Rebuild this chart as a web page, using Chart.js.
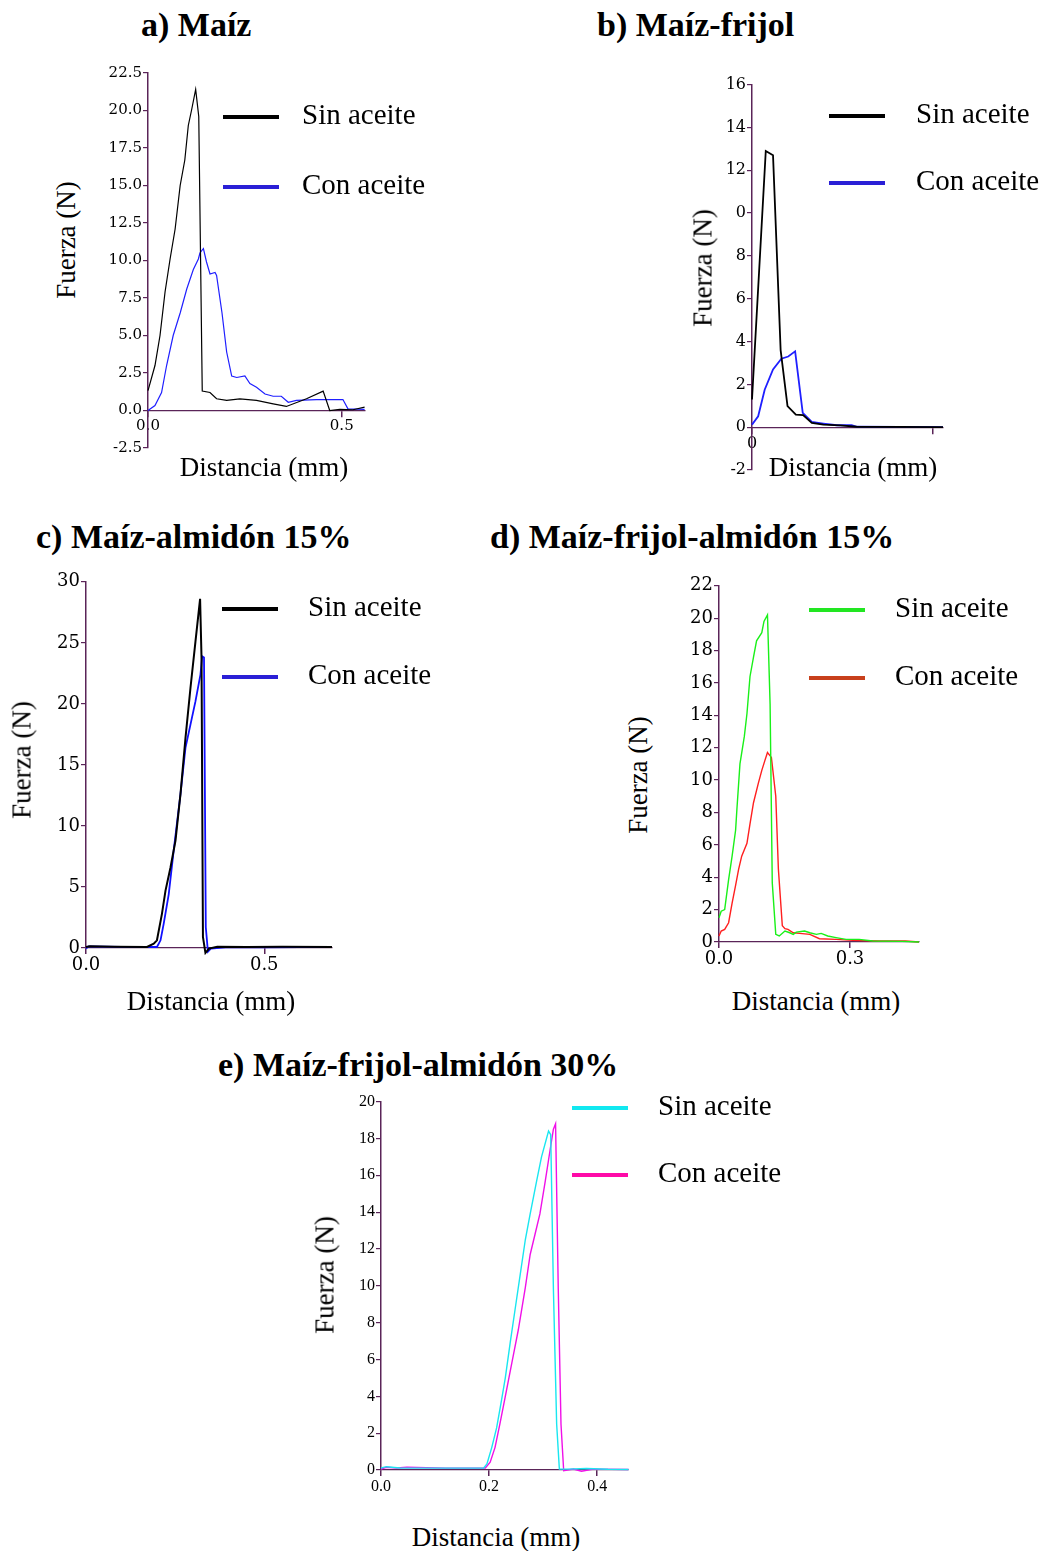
<!DOCTYPE html>
<html>
<head>
<meta charset="utf-8">
<script src="https://cdn.jsdelivr.net/npm/chart.js@4/dist/chart.umd.min.js"></script>
<style>
    body { margin: 0; background: #fff; width: 1045px; height: 1551px; position: relative; overflow: hidden;
           font-family: "Liberation Serif", "Times New Roman", serif; }
    .t { position: absolute; white-space: nowrap; color: #000; line-height: 1; }
    .ttl { font-weight: bold; font-size: 34px; }
    .leg { font-size: 29px; }
    .ax { font-size: 27px; }
    .sw { position: absolute; height: 4px; }
    canvas { position: absolute; }
</style>
</head>
<body>
<script>
// a) Maíz
const maizSinX = [0, 0.018, 0.031, 0.044, 0.057, 0.070, 0.083, 0.095, 0.104, 0.113, 0.123, 0.131, 0.140, 0.160, 0.177, 0.203, 0.237, 0.280, 0.323, 0.357, 0.409, 0.452, 0.469, 0.495, 0.529, 0.559];
const maizSinY = [1.33, 3.0, 5.0, 7.9, 10.1, 12.1, 15.0, 16.7, 19.0, 20.1, 21.4, 19.6, 1.3, 1.2, 0.78, 0.67, 0.78, 0.67, 0.44, 0.27, 0.78, 1.29, 0, 0.07, 0.05, 0.22];
const maizConX = [0, 0.018, 0.035, 0.048, 0.065, 0.083, 0.100, 0.117, 0.130, 0.134, 0.143, 0.151, 0.160, 0.173, 0.177, 0.191, 0.203, 0.216, 0.229, 0.250, 0.263, 0.280, 0.302, 0.323, 0.344, 0.362, 0.383, 0.435, 0.503, 0.516, 0.559];
const maizConY = [0, 0.33, 1.2, 3.0, 5.0, 6.5, 8.1, 9.4, 10.1, 10.5, 10.8, 9.9, 9.1, 9.2, 9.0, 6.5, 3.9, 2.3, 2.2, 2.3, 1.8, 1.55, 1.1, 0.95, 0.95, 0.55, 0.67, 0.73, 0.73, 0.11, 0.07];

// b) Maíz-frijol
const frijolSinX = [0, 0.038, 0.058, 0.079, 0.098, 0.121, 0.141, 0.165, 0.197, 0.243, 0.289, 0.527];
const frijolSinY = [1.29, 12.9, 12.7, 3.6, 0.98, 0.59, 0.56, 0.2, 0.12, 0.08, 0.02, 0];
const frijolConX = [0, 0.017, 0.035, 0.058, 0.081, 0.100, 0.119, 0.140, 0.165, 0.197, 0.234, 0.275, 0.289, 0.527];
const frijolConY = [0.12, 0.51, 1.75, 2.7, 3.2, 3.3, 3.54, 0.67, 0.25, 0.17, 0.09, 0.09, 0.02, 0];

// c) Maíz-almidón 15%
const almidonSinX = [0, 0.011, 0.08, 0.171, 0.190, 0.199, 0.213, 0.223, 0.237, 0.251, 0.265, 0.279, 0.293, 0.307, 0.320, 0.324, 0.328, 0.335, 0.345, 0.368, 0.45, 0.55, 0.69];
const almidonSinY = [0.08, 0.14, 0.1, 0.08, 0.35, 0.63, 2.8, 4.7, 6.6, 8.8, 12.6, 17.2, 21.3, 25.1, 28.6, 23.8, 0.9, -0.4, -0.05, 0.1, 0.08, 0.1, 0.08];
const almidonConX = [0, 0.007, 0.1, 0.199, 0.209, 0.218, 0.232, 0.246, 0.265, 0.279, 0.293, 0.307, 0.321, 0.326, 0.331, 0.336, 0.342, 0.350, 0.40, 0.50, 0.60, 0.69];
const almidonConY = [-0.05, 0.14, 0.1, 0.08, 0.63, 2.0, 4.4, 8.0, 12.6, 16.4, 18.3, 20.2, 22.4, 23.9, 23.8, 1.7, -0.3, -0.05, 0.08, 0.06, 0.08, 0.08];

// d) Maíz-frijol-almidón 15%
const fa15SinX = [0, 0.005, 0.013, 0.022, 0.030, 0.038, 0.041, 0.048, 0.058, 0.064, 0.071, 0.079, 0.086, 0.098, 0.103, 0.111, 0.117, 0.122, 0.130, 0.138, 0.151, 0.162, 0.170, 0.177, 0.196, 0.208, 0.223, 0.234, 0.249, 0.268, 0.291, 0.321, 0.352, 0.420, 0.458];
const fa15SinY = [1.5, 1.9, 2.0, 3.85, 5.3, 6.9, 8.2, 11.0, 12.7, 14.1, 16.4, 17.6, 18.6, 19.1, 19.8, 20.2, 14.7, 3.65, 0.47, 0.37, 0.68, 0.57, 0.47, 0.61, 0.68, 0.57, 0.47, 0.53, 0.37, 0.27, 0.16, 0.16, 0.06, 0.04, 0];
const fa15ConX = [0, 0.005, 0.013, 0.022, 0.030, 0.038, 0.045, 0.052, 0.064, 0.071, 0.079, 0.090, 0.098, 0.105, 0.111, 0.120, 0.130, 0.136, 0.145, 0.151, 0.158, 0.170, 0.185, 0.208, 0.230, 0.268, 0.306, 0.367, 0.427, 0.458];
const fa15ConY = [0.37, 0.68, 0.78, 1.19, 2.4, 3.5, 4.5, 5.3, 6.1, 7.3, 8.6, 9.8, 10.6, 11.2, 11.7, 11.4, 9.0, 4.5, 1.0, 0.82, 0.78, 0.57, 0.53, 0.47, 0.2, 0.16, 0.1, 0.06, 0.06, 0];

// e) Maíz-frijol-almidón 30%
const fa30SinX = [0, 0.010, 0.035, 0.10, 0.190, 0.196, 0.205, 0.214, 0.223, 0.230, 0.239, 0.248, 0.257, 0.267, 0.276, 0.288, 0.297, 0.310, 0.314, 0.319, 0.325, 0.330, 0.344, 0.38, 0.42, 0.458];
const fa30SinY = [0.11, 0.18, 0.11, 0.1, 0.11, 0.33, 1.23, 2.3, 3.8, 5.0, 6.9, 8.7, 10.5, 12.5, 13.9, 15.7, 17.0, 18.4, 18.2, 9.8, 2.5, 0.05, 0.05, 0.08, 0.04, 0.03];
const fa30ConX = [0, 0.010, 0.029, 0.048, 0.12, 0.193, 0.202, 0.211, 0.220, 0.230, 0.242, 0.254, 0.267, 0.276, 0.285, 0.294, 0.304, 0.313, 0.319, 0.323, 0.328, 0.333, 0.338, 0.356, 0.371, 0.393, 0.458];
const fa30ConY = [0.05, 0.15, 0.11, 0.15, 0.1, 0.11, 0.42, 1.23, 2.5, 4.0, 5.8, 7.6, 9.9, 11.7, 12.8, 13.9, 15.7, 17.4, 18.5, 18.8, 9.8, 2.5, -0.04, 0.05, -0.07, 0.05, 0.03];

const serieNames = ['Sin aceite', 'Con aceite'];
const axisColor = '#5a2458';

function addText(txt, cls, x, y, rotate) {
    const d = document.createElement('div');
    d.className = 't ' + cls;
    d.textContent = txt;
    d.style.left = x + 'px';
    d.style.top = y + 'px';
    d.style.transform = rotate ? 'translate(-50%,-50%) rotate(-90deg)' : 'translateY(-50%)';
    document.body.appendChild(d);
    return d;
}

function addCenter(txt, cls, x, y) {
    const d = addText(txt, cls, x, y, false);
    d.style.transform = 'translate(-50%,-50%)';
}

function addLegend(p) {
    p.series.forEach((s, i) => {
        const sw = document.createElement('div');
        sw.className = 'sw';
        sw.style.left = p.leg.x + 'px';
        sw.style.top = (p.leg.y[i] - 2) + 'px';
        sw.style.width = '56px';
        sw.style.background = s.legColor;
        document.body.appendChild(sw);
        addText(s.label, 'leg', p.leg.tx, p.leg.y[i] - 3);
    });
}

function makePanel(p) {
    const cv = document.createElement('canvas');
    const w = p.R - p.L + 70, h = p.B - p.T + 50;
    cv.width = w; cv.height = h;
    cv.style.left = (p.L - 60) + 'px';
    cv.style.top = (p.T - 10) + 'px';
    cv.style.width = w + 'px';
    cv.style.height = h + 'px';
    document.body.appendChild(cv);

    const tickFont = { family: p.tickFont, size: p.tickSize };
    new Chart(cv.getContext('2d'), {
        type: 'line',
        data: {
            datasets: p.series.map(s => ({
                label: s.label,
                data: s.x.map((v, i) => ({ x: v, y: s.y[i] })),
                borderColor: s.color,
                borderWidth: s.width,
                pointRadius: 0,
                tension: 0,
                fill: false,
                clip: false
            }))
        },
        options: {
            responsive: false,
            animation: false,
            devicePixelRatio: 1,
            layout: { padding: { left: 0, top: 10, right: 10, bottom: p.xAtZero ? 40 : 0 } },
            plugins: { legend: { display: false }, tooltip: { enabled: false } },
            scales: {
                x: {
                    type: 'linear',
                    min: 0,
                    max: p.xMax,
                    position: p.xAtZero ? { y: 0 } : 'bottom',
                    afterFit: s => { if (!p.xAtZero) s.height = 40; },
                    ticks: { stepSize: p.xStep, includeBounds: false, autoSkip: false, maxRotation: 0,
                             padding: 1, color: '#000', font: tickFont, callback: p.xFmt },
                    grid: { drawOnChartArea: false, drawTicks: true, tickLength: 6, color: axisColor, lineWidth: 1.5 },
                    border: { color: axisColor, width: 1.2 }
                },
                y: {
                    type: 'linear',
                    min: p.yMin,
                    max: p.yMax,
                    afterFit: s => { s.width = 60; },
                    ticks: { stepSize: p.yStep, includeBounds: false, autoSkip: false,
                             padding: 1, color: '#000', font: tickFont, callback: p.yFmt },
                    grid: { drawOnChartArea: false, drawTicks: true, tickLength: 5, color: axisColor, lineWidth: 1.2 },
                    border: { color: axisColor, width: 1.5 }
                }
            }
        }
    });

    addText(p.title, 'ttl', p.titlePos[0], p.titlePos[1]);
    addText('Fuerza (N)', 'ax', p.yTitle[0], p.yTitle[1], true);
    addCenter('Distancia (mm)', 'ax', p.xTitle[0], p.xTitle[1]);
    addLegend(p);
}

const fmt1 = v => Number(v).toFixed(1);
const fmt0 = v => String(Math.round(v));
const wideSerif = "'DejaVu Serif', 'Liberation Serif', serif";
const plainSerif = "'Liberation Serif', 'Times New Roman', serif";

const panels = [
    {
        title: 'a) Maíz', titlePos: [141, 25], yTitle: [66, 240], xTitle: [264, 467],
        L: 148, T: 73, R: 365, B: 448, xMax: 0.56, xStep: 0.5, yMin: -2.5, yMax: 22.5, yStep: 2.5,
        xAtZero: true, xFmt: fmt1, yFmt: fmt1, tickFont: wideSerif, tickSize: 15,
        leg: { x: 223, tx: 302, y: [117, 187] },
        series: [
            { label: serieNames[0], x: maizSinX, y: maizSinY, color: '#000000', legColor: '#000000', width: 1.2 },
            { label: serieNames[1], x: maizConX, y: maizConY, color: '#1f1fff', legColor: '#2a1fd6', width: 1.2 }
        ]
    },
    {
        title: 'b) Maíz-frijol', titlePos: [597, 25], yTitle: [703, 268], xTitle: [853, 467],
        L: 752, T: 84, R: 943, B: 470, xMax: 0.527, xStep: 0.5, yMin: -2, yMax: 16, yStep: 2,
        xAtZero: true, xFmt: v => (v === 0 ? '0' : ''), yFmt: v => (v === 10 ? '0' : String(v)),
        tickFont: wideSerif, tickSize: 16,
        leg: { x: 829, tx: 916, y: [116, 183] },
        series: [
            { label: serieNames[0], x: frijolSinX, y: frijolSinY, color: '#000000', legColor: '#000000', width: 1.8 },
            { label: serieNames[1], x: frijolConX, y: frijolConY, color: '#1f1fff', legColor: '#2a1fd6', width: 1.8 }
        ]
    },
    {
        title: 'c) Maíz-almidón 15%', titlePos: [36, 537], yTitle: [22, 760], xTitle: [211, 1001],
        L: 86, T: 580, R: 332, B: 948, xMax: 0.69, xStep: 0.5, yMin: 0, yMax: 30, yStep: 5,
        xAtZero: false, xFmt: fmt1, yFmt: fmt0, tickFont: wideSerif, tickSize: 18,
        leg: { x: 222, tx: 308, y: [609, 677] },
        series: [
            { label: serieNames[0], x: almidonSinX, y: almidonSinY, color: '#000000', legColor: '#000000', width: 2 },
            { label: serieNames[1], x: almidonConX, y: almidonConY, color: '#1010ff', legColor: '#2a1fd6', width: 1.8 }
        ]
    },
    {
        title: 'd) Maíz-frijol-almidón 15%', titlePos: [490, 537], yTitle: [638, 775], xTitle: [816, 1001],
        L: 719, T: 584, R: 919, B: 942, xMax: 0.458, xStep: 0.3, yMin: 0, yMax: 22, yStep: 2,
        xAtZero: false, xFmt: fmt1, yFmt: fmt0, tickFont: wideSerif, tickSize: 18,
        leg: { x: 809, tx: 895, y: [610, 678] },
        series: [
            { label: serieNames[0], x: fa15SinX, y: fa15SinY, color: '#19f019', legColor: '#22e622', width: 1.4 },
            { label: serieNames[1], x: fa15ConX, y: fa15ConY, color: '#ff1f1f', legColor: '#c8401c', width: 1.4 }
        ]
    },
    {
        title: 'e) Maíz-frijol-almidón 30%', titlePos: [218, 1065], yTitle: [325, 1275], xTitle: [496, 1537],
        L: 381, T: 1101, R: 628, B: 1470, xMax: 0.457, xStep: 0.2, yMin: 0, yMax: 20, yStep: 2,
        xAtZero: false, xFmt: fmt1, yFmt: fmt0, tickFont: plainSerif, tickSize: 16,
        leg: { x: 572, tx: 658, y: [1108, 1175] },
        series: [
            { label: serieNames[0], x: fa30SinX, y: fa30SinY, color: '#19e6f0', legColor: '#11e8f0', width: 1.4 },
            { label: serieNames[1], x: fa30ConX, y: fa30ConY, color: '#f010e8', legColor: '#ff0aa8', width: 1.4 }
        ]
    }
];

panels.forEach(makePanel);
</script>
</body>
</html>
